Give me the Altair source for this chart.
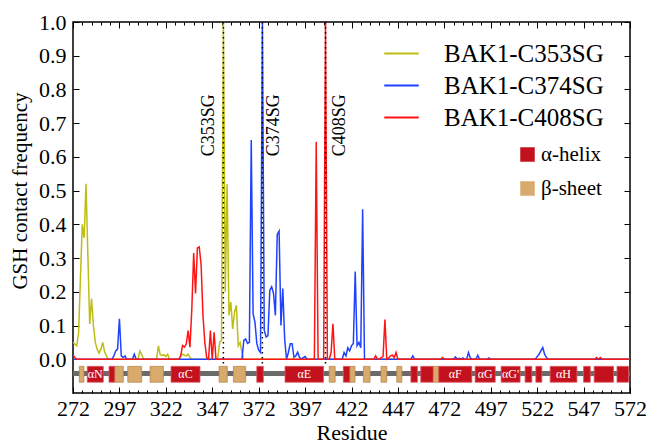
import altair as alt
import pandas as pd

FONT = "'Liberation Serif', 'Times New Roman', 'DejaVu Serif', serif"
W, H = 557, 371

# ---------------- data ----------------
residues = list(range(272, 573))
major_ticks = [272, 297, 322, 347, 372, 397, 422, 447, 472, 497, 522, 547, 572]
minor_ticks = list(range(272, 573, 5))
y_ticks = [0.0, 0.1, 0.2, 0.3, 0.4, 0.5, 0.6, 0.7, 0.8, 0.9, 1.0]

series_names = ["BAK1-C353SG", "BAK1-C374SG", "BAK1-C408SG"]
series_colors = ["#bdbd14", "#1f42ff", "#ff1414"]

c353_res = [272, 273, 274, 275, 276, 277, 278, 279, 280, 281, 282, 283, 284, 285, 286, 287, 288, 289, 290, 291,
            307, 308, 309, 310, 317, 318, 319, 320, 321, 322, 323, 324,
            329, 330, 331, 332, 333, 334, 335, 336,
            350, 351, 352, 353, 354, 355, 356, 357, 358, 359, 360, 361, 362, 363, 364]
c353_val = [0.05, 0.045, 0.04, 0.077, 0.24, 0.40, 0.36, 0.52, 0.31, 0.105, 0.18, 0.10, 0.05, 0.03, 0.018, 0.03, 0.05, 0.023, 0.01, 0.0,
            0.0, 0.024, 0.014, 0.0, 0.0, 0.04, 0.013, 0.012, 0.013, 0.008, 0.015, 0.0,
            0.0, 0.01, 0.015, 0.012, 0.01, 0.015, 0.005, 0.0,
            0.005, 0.05, 0.056, 1.0, 0.2, 0.52, 0.13, 0.17, 0.09, 0.14, 0.16, 0.04, 0.05, 0.02, 0.0]

c374_res = [293, 294, 295, 296, 297, 298, 299, 300, 301, 304, 305, 306,
            363, 364, 365, 366, 367, 368, 369, 370, 371, 372, 373, 374, 375, 376, 377, 378, 379, 380,
            381, 382, 383, 384, 385, 386, 387, 388, 389, 390, 391, 392, 393, 394, 395, 396, 397, 398,
            417, 418, 419, 420, 421, 422, 423, 424, 425, 426, 427, 428, 429,
            454, 455, 456, 477, 478, 479, 480, 481, 482, 483, 485, 486, 487, 489, 490, 491, 496, 497,
            521, 522, 523, 524, 525, 526, 527, 528]
c374_val = [0.0, 0.01, 0.025, 0.03, 0.12, 0.01, 0.005, 0.01, 0.0, 0.0, 0.015, 0.0,
            0.0, 0.056, 0.06, 0.047, 0.05, 0.65, 0.135, 0.11, 0.047, 0.027, 0.02, 1.0, 0.086, 0.066, 0.07, 0.205, 0.215, 0.195,
            0.13, 0.37, 0.38, 0.1, 0.21, 0.06, 0.0, 0.02, 0.046, 0.046, 0.006, 0.01, 0.021, 0.006, 0.0, 0.005, 0.008, 0.0,
            0.0, 0.02, 0.01, 0.034, 0.025, 0.04, 0.047, 0.26, 0.04, 0.05, 0.034, 0.445, 0.0,
            0.0, 0.01, 0.0, 0.0, 0.007, 0.0, 0.003, 0.0, 0.004, 0.0, 0.02, 0.004, 0.0, 0.0, 0.012, 0.0, 0.004, 0.0,
            0.0, 0.008, 0.015, 0.025, 0.035, 0.015, 0.005, 0.0]

c408_res = [272, 273, 274,
            329, 330, 331, 332, 333, 334, 335, 336, 337, 338, 339, 340, 341, 342, 343, 344, 345, 346, 347, 348, 349,
            402, 403, 404, 407, 408, 409, 410, 411, 412, 413,
            434, 435, 436, 438, 439, 440, 441, 442, 443, 444, 445, 446, 447,
            471, 554, 556]
c408_val = [0.012, 0.005, 0.0,
            0.0, 0.01, 0.041, 0.036, 0.045, 0.085, 0.036, 0.15, 0.315, 0.195, 0.33, 0.333, 0.28, 0.13, 0.05, 0.005, 0.0, 0.085, 0.0, 0.08, 0.0,
            0.0, 0.645, 0.0, 0.0, 1.0, 0.0, 0.0, 0.02, 0.105, 0.0,
            0.0, 0.01, 0.0, 0.005, 0.008, 0.118, 0.0, 0.003, 0.01, 0.012, 0.005, 0.02, 0.0,
            0.005, 0.005, 0.005]

# secondary structure elements
ss_start = [275.4, 279.7, 291.4, 294.6, 301.5, 313.5, 324.8, 350.7, 358.4, 371.0, 386.2, 410.0, 417.6, 421.2,
            428.4, 437.9, 446.4, 454.0, 459.3, 466.1, 469.0, 488.6, 502.6, 515.5, 521.3, 529.0, 547.0, 552.7, 565.0]
ss_end = [277.9, 288.3, 294.6, 299.1, 309.0, 320.7, 340.4, 355.1, 365.0, 374.5, 406.9, 413.2, 421.2, 423.9,
          432.0, 441.0, 449.1, 457.5, 466.1, 469.0, 486.8, 499.4, 512.8, 519.1, 524.5, 543.4, 550.6, 563.1, 571.2]
ss_type = ["β-sheet", "α-helix", "α-helix", "β-sheet", "β-sheet", "β-sheet", "α-helix", "β-sheet", "β-sheet",
           "α-helix", "α-helix", "β-sheet", "α-helix", "β-sheet", "β-sheet", "β-sheet", "β-sheet", "α-helix",
           "α-helix", "β-sheet", "α-helix", "α-helix", "α-helix", "α-helix", "α-helix", "α-helix", "α-helix",
           "α-helix", "α-helix"]
ss_label = ["", "αN", "", "", "", "", "αC", "", "", "", "αE", "", "", "", "", "", "", "", "", "",
            "αF", "αG", "αG'", "", "", "αH", "", "", ""]
ss_types = ["α-helix", "β-sheet"]
ss_colors = ["#c3111d", "#d8ab6c"]
ss_edges = ["#e0505a", "#b98a4e"]
backbone_start, backbone_end = 272, 572

site_res = [353, 374, 408]
site_label = ["C353SG", "C374SG", "C408SG"]

# ---------------- tables ----------------
def expand(res, val):
    lookup = dict(zip(res, val))
    return [lookup.get(r, 0.0) for r in residues]

rows = []
for name, res, val in zip(series_names, [c353_res, c374_res, c408_res], [c353_val, c374_val, c408_val]):
    for r, v in zip(residues, expand(res, val)):
        rows.append({"series": name, "res": r, "val": v})
df = pd.DataFrame(rows)

ss_df = pd.DataFrame({"start": ss_start, "end": ss_end, "type": ss_type, "label": ss_label})
site_df = pd.DataFrame({"res": site_res, "label": site_label})
bb_df = pd.DataFrame({"start": [backbone_start], "end": [backbone_end]})
axis_df = pd.DataFrame({"res": [272, 572], "val": [0.0, 1.0]})

# ---------------- scales ----------------
xs = alt.Scale(domain=[272, 572], nice=False, zero=False)
ys = alt.Scale(domain=[-0.1, 1.0], nice=False, zero=False)
color_scale = alt.Scale(domain=series_names, range=series_colors)

color_legend = alt.Legend(orient="none", legendX=310, legendY=13, title=None, symbolType="stroke",
                          symbolSize=1190, symbolStrokeWidth=2, labelFont=FONT, labelFontSize=25,
                          labelOffset=24, rowPadding=0, padding=0, labelLimit=400, labelColor="black")
fill_legend = alt.Legend(orient="none", legendX=444, legendY=122, title=None, symbolType="square",
                         symbolSize=210, symbolStrokeWidth=0, symbolOpacity=1, labelFont=FONT, labelFontSize=21,
                         labelOffset=3, rowPadding=12, padding=0, labelColor="black")

# ---------------- layers ----------------
backbone = alt.Chart(bb_df).mark_rule(color="#6a6a6a", strokeWidth=5).encode(
    x=alt.X("start:Q", scale=xs, axis=None), x2="end:Q",
    y=alt.YDatum(-0.042, scale=ys, axis=None))

ss = alt.Chart(ss_df).mark_rect(strokeWidth=0.8).encode(
    x=alt.X("start:Q", scale=xs, axis=None), x2="end:Q",
    y=alt.YDatum(-0.068, scale=ys, axis=None), y2=alt.Y2Datum(-0.021),
    fill=alt.Fill("type:N", scale=alt.Scale(domain=ss_types, range=ss_colors), legend=fill_legend),
    stroke=alt.Stroke("type:N", scale=alt.Scale(domain=ss_types, range=ss_edges), legend=None))

ss_text = alt.Chart(ss_df).transform_filter(alt.datum.label != "").transform_calculate(
    mid="(datum.start + datum.end) / 2").mark_text(font=FONT, fontSize=12, color="white", baseline="middle").encode(
    x=alt.X("mid:Q", scale=xs, axis=None), y=alt.YDatum(-0.045, scale=ys, axis=None), text="label:N")

line_layers = [
    alt.Chart(df).transform_filter(alt.datum.series == n).mark_line(strokeWidth=1.5, clip=True).encode(
        x=alt.X("res:Q", scale=xs, axis=None), y=alt.Y("val:Q", scale=ys, axis=None),
        color=alt.Color("series:N", scale=color_scale, legend=color_legend))
    for n in series_names
]

rules = alt.Chart(site_df).mark_rule(color="black", strokeWidth=1.5, strokeDash=[1.5, 3.5]).encode(
    x=alt.X("res:Q", scale=xs, axis=None), y=alt.YDatum(1.0, scale=ys, axis=None), y2=alt.Y2Datum(-0.015))

label_offsets = [-9, 17, 19]
site_texts = [
    alt.Chart(site_df).transform_filter(alt.datum.label == lab).mark_text(
        angle=270, font=FONT, fontSize=18, baseline="alphabetic", align="center", dy=off, color="black").encode(
        x=alt.X("res:Q", scale=xs, axis=None), y=alt.YDatum(0.694, scale=ys, axis=None), text="label:N")
    for lab, off in zip(site_label, label_offsets)
]

def axis_layer(xaxis, yaxis):
    return alt.Chart(axis_df).mark_point(opacity=0).encode(
        x=alt.X("res:Q", scale=xs, axis=xaxis), y=alt.Y("val:Q", scale=ys, axis=yaxis))

tick_common = dict(labels=False, domain=False, grid=False, title=None, tickColor="black", tickWidth=1)

ax_main = axis_layer(
    alt.Axis(orient="bottom", values=major_ticks, format="d", ticks=False, tickSize=0, domain=False, grid=False,
             labelPadding=5, labelFont=FONT, labelFontSize=22, labelColor="black", labelFlush=False,
             labelOverlap=False, title="Residue", titleFont=FONT, titleFontSize=22, titleFontWeight="normal",
             titleColor="black", titleY=46, titleBaseline="alphabetic"),
    alt.Axis(orient="left", values=y_ticks, format=".1f", ticks=False, tickSize=0, domain=False, grid=False,
             labelPadding=7, labelFont=FONT, labelFontSize=22, labelColor="black", labelOverlap=False,
             title="GSH contact frequency", titleFont=FONT, titleFontSize=21, titleFontWeight="normal",
             titleColor="black", titleAngle=270, titleX=-47, titleY=168.5, titleAlign="center",
             titleBaseline="alphabetic"))
ax_b_major = axis_layer(alt.Axis(orient="top", offset=-H, values=major_ticks, tickSize=6, **tick_common),
                        alt.Axis(orient="right", offset=-W, values=y_ticks, tickSize=6, **tick_common))
ax_b_minor = axis_layer(alt.Axis(orient="top", offset=-H, values=minor_ticks, tickSize=3, **tick_common),
                        alt.Axis(orient="left", offset=-W, values=y_ticks, tickSize=6, **tick_common))
ax_t_major = axis_layer(alt.Axis(orient="bottom", offset=-H, values=major_ticks, tickSize=6, **tick_common), None)
ax_t_minor = axis_layer(alt.Axis(orient="bottom", offset=-H, values=minor_ticks, tickSize=3, **tick_common), None)

chart = alt.layer(
    backbone, ss, ss_text, *line_layers, rules, *site_texts,
    ax_main, ax_b_major, ax_b_minor, ax_t_major, ax_t_minor
).resolve_axis(x="independent", y="independent").properties(
    width=W, height=H,
    padding={"left": 73, "top": 22, "right": 19, "bottom": 50},
    autosize=alt.AutoSizeParams(type="none"),
).configure_view(stroke="black", strokeWidth=1.5)

chart.save("out.html", embed_options={"renderer": "svg", "actions": False})
